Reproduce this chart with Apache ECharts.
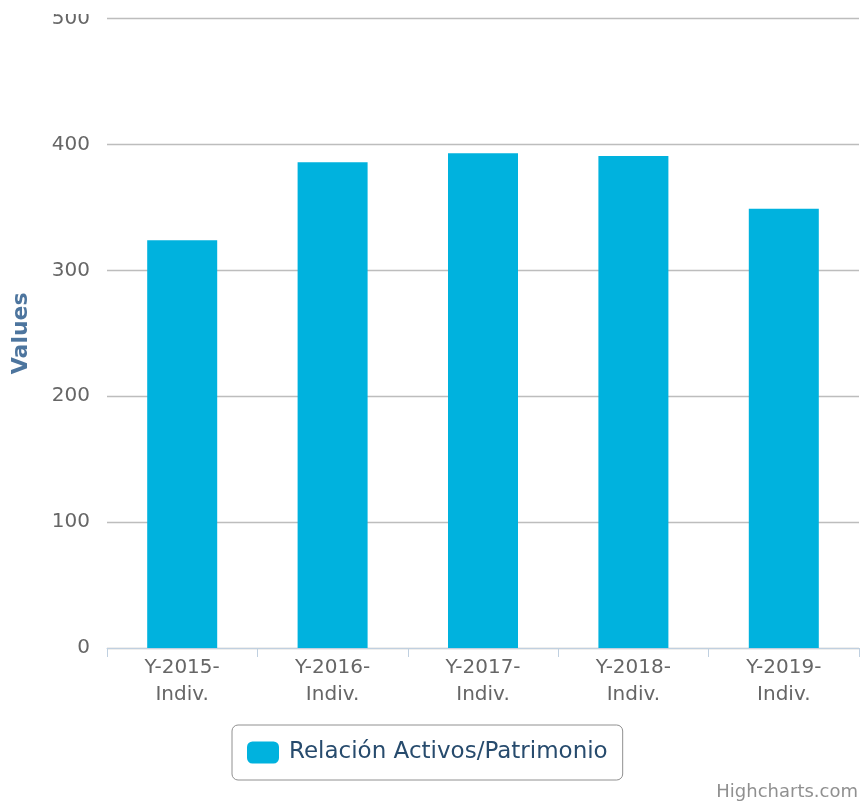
<!DOCTYPE html>
<html>
<head>
<meta charset="utf-8">
<script src="https://cdn.jsdelivr.net/npm/echarts@6/dist/echarts.min.js"></script>
<style>
  html, body { margin: 0; padding: 0; background: #fff; }
  #chart { width: 863px; height: 803px; }
</style>
</head>
<body>
<div id="chart"></div>
<script>
// Relación Activos/Patrimonio por ejercicio (estados individuales)
const categories = ['Y-2015-\nIndiv.', 'Y-2016-\nIndiv.', 'Y-2017-\nIndiv.', 'Y-2018-\nIndiv.', 'Y-2019-\nIndiv.'];
const seriesName = 'Relación Activos/Patrimonio';
const ratioValues = [324, 386, 393, 391, 349];
const yTicks = { min: 0, max: 500, interval: 100 };
const axisTitle = 'Values';
const creditText = 'Highcharts.com';

const FONT = '"DejaVu Sans", Verdana, sans-serif';

const chart = echarts.init(document.getElementById('chart'), null, { renderer: 'canvas' });

chart.setOption({
  animation: false,
  backgroundColor: '#ffffff',
  textStyle: { fontFamily: FONT },
  grid: { left: 107, right: 4, top: 18.7, bottom: 155, containLabel: false, outerBoundsMode: 'none' },
  legend: {
    data: [seriesName],
    left: 232,
    top: 725,
    icon: 'roundRect',
    itemWidth: 32,
    itemHeight: 22,
    itemGap: 10,
    padding: [16, 15, 16, 15],
    borderColor: '#909090',
    borderWidth: 1,
    borderRadius: 6,
    textStyle: { color: '#274b6d', fontSize: 23, fontFamily: FONT, padding: [0, 0, 0, 5] }
  },
  xAxis: {
    type: 'category',
    data: categories,
    axisLine: { lineStyle: { color: '#C0D0E0', width: 1 } },
    axisTick: { show: true, length: 9, alignWithLabel: false, lineStyle: { color: '#C0D0E0' } },
    axisLabel: {
      color: '#666666',
      fontSize: 20,
      lineHeight: 27,
      margin: 6,
      fontFamily: FONT
    },
    splitLine: { show: false }
  },
  yAxis: {
    type: 'value',
    min: yTicks.min,
    max: yTicks.max,
    interval: yTicks.interval,
    name: axisTitle,
    nameLocation: 'middle',
    nameRotate: 90,
    nameGap: 75,
    nameTextStyle: { color: '#4d759e', fontWeight: 'bold', fontSize: 22, fontFamily: FONT },
    axisLine: { show: false },
    axisTick: { show: false },
    axisLabel: { color: '#666666', fontSize: 20, margin: 17, lineHeight: 26, padding: [4, 0, 0, 0], fontFamily: FONT },
    splitLine: { lineStyle: { color: '#BDBDBD', width: 1.3 } }
  },
  series: [{
    name: seriesName,
    type: 'bar',
    data: ratioValues,
    barWidth: 70,
    itemStyle: { color: '#00B2DE' }
  }],
  graphic: [
    {
      // the page edge trims the top of the highest tick label
      type: 'rect',
      left: 0,
      top: 0,
      shape: { width: 104, height: 14 },
      style: { fill: '#ffffff' },
      z: 100
    },
    {
      type: 'text',
      right: 5,
      bottom: 2,
      style: { text: creditText, fill: '#909090', font: '18px ' + FONT }
    }
  ]
});
</script>
</body>
</html>
